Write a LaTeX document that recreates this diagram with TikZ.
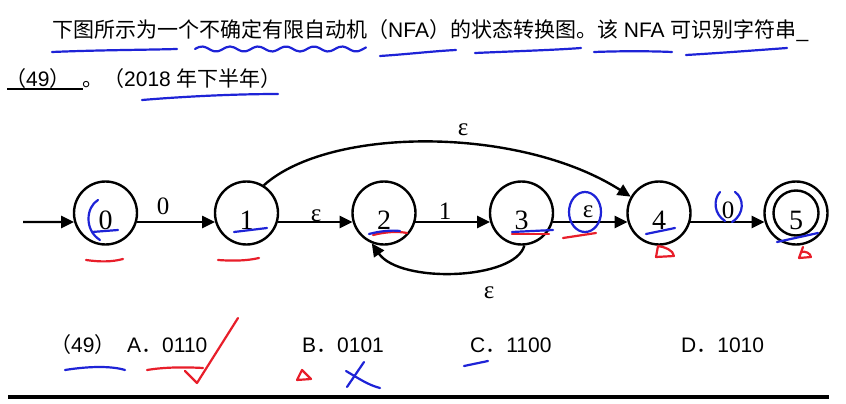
\documentclass[tikz,border=0pt]{standalone}
\usepackage{fontspec}
\setmainfont{Liberation Sans}
\newfontfamily\cjk{Noto Sans CJK SC}
\newfontfamily\tms{Liberation Serif}
\usetikzlibrary{arrows.meta}
\definecolor{bluepen}{RGB}{30,35,215}
\definecolor{redpen}{RGB}{232,30,42}
\begin{document}
\begin{tikzpicture}[x=1pt,y=-1pt,
  txt/.style={anchor=base west, inner sep=0pt, font=\fontsize{21}{25}\selectfont},
  state/.style={draw, circle, line width=2.4pt, minimum size=63pt, inner sep=0pt},
  statelbl/.style={font=\tms\fontsize{28}{30}\selectfont, yshift=-7pt, inner sep=0pt},
  edgelbl/.style={font=\tms\fontsize{25}{28}\selectfont, inner sep=0pt},
  arr/.style={line width=2.4pt, -{Triangle[length=13pt,width=12pt]}},
  hb/.style={draw=bluepen, line width=2.2pt, line cap=round, line join=round},
  hr/.style={draw=redpen, line width=2.2pt, line cap=round, line join=round}]
\useasboundingbox (0,0) rectangle (846,404);
\fill[white] (0,0) rectangle (846,404);

% ---- question text ----
\node[txt] (line1) at (52,38) {{\cjk 下图所示为一个不确定有限自动机（}NFA{\cjk ）的状态转换图。该} NFA {\cjk 可识别字符串}\_};
\node[txt] (line2a) at (5,86) {{\cjk （}49{\cjk ）}};
\draw[line width=1.6pt] (7,89) -- (83,89);
\node[txt] (line2b) at (82,86) {{\cjk 。（}2018 {\cjk 年下半年）}};

% ---- automaton ----
\node[state, label={[statelbl]center:0}] (s0) at (105.5,213) {};
\node[state, label={[statelbl]center:1}] (s1) at (246.5,213) {};
\node[state, label={[statelbl]center:2}] (s2) at (384,213) {};
\node[state, label={[statelbl]center:3}] (s3) at (521.5,213) {};
\node[state, label={[statelbl]center:4}] (s4) at (659,213) {};
\node[state, label={[statelbl]center:5}] (s5) at (796,213) {};
\node[draw, circle, line width=2.4pt, minimum size=45pt, inner sep=0pt] (s5in) at (s5) {};

\coordinate (start) at (23,222);
\draw[arr] (start) -- (s0.196.6);
\draw[arr] (s0.-16.6) -- (s1.196.6);
\draw[arr] (s1.-16.6) -- (s2.196.6);
\draw[arr] (s2.-16.6) -- (s3.196.6);
\draw[arr] (s3.-16.6) -- (s4.196.6);
\draw[arr] (s4.-16.6) -- (s5.196.6);
\draw[arr] (s1.58) .. controls (330,126) and (520,126) .. (s4.150);
\draw[arr] (s3.-85) .. controls (515,280) and (400,284) .. (s2.-112);

\node[edgelbl] (l01) at (163,206) {0};
\node[edgelbl] (l12) at (316,216) {ε};
\node[edgelbl] (l23) at (445,211) {1};
\node[edgelbl] (l34) at (588,212) {ε};
\node[edgelbl] (l45) at (728,210) {0};
\node[edgelbl] (l14) at (463,130) {ε};
\node[edgelbl] (l32) at (489,293) {ε};

% ---- options ----
\node[txt] (o49) at (50,352) {{\cjk （}49{\cjk ）}};
\node[txt] (oA) at (127,352) {A{\cjk ．}0110};
\node[txt] (oB) at (302,352) {B{\cjk ．}0101};
\node[txt] (oC) at (470,352) {C{\cjk ．}1100};
\node[txt] (oD) at (681,352) {D{\cjk ．}1010};
\draw[line width=3.5pt] (8,397) -- (829,397);

% ---- handwritten marks ----
\draw[hb] (52,52) .. controls (100,50) and (140,50) .. (177,49);
\draw[hb] plot[smooth, domain=195:366, samples=45] (\x, {49 - 2.5*sin((\x-195)*12.857)});
\draw[hb] (380,56) .. controls (410,54) and (435,51) .. (456,50);
\draw[hb] (475,53) .. controls (520,51) and (555,50) .. (581,48);
\draw[hb] (594,52) .. controls (620,51) and (650,51) .. (672,52);
\draw[hb] (686,55) .. controls (720,53) and (760,50) .. (787,48);
\draw[hb] (142,100) .. controls (190,96) and (240,94) .. (278,94);

\draw[hb] (98,200) .. controls (86,207) and (84,230) .. (100,240);
\draw[hb] (92,232) -- (118,230);
\draw[hr] (86,260) .. controls (100,262) and (112,262) .. (123,259);
\draw[hb] (234,232) -- (267,228);
\draw[hr] (218,260) .. controls (232,261) and (246,261) .. (259,258);
\draw[hr] (373,235) .. controls (385,232) and (397,231) .. (407,233);
\draw[hb] (369,234) .. controls (380,231) and (392,230) .. (400,231);
\draw[hr] (512,234) -- (549,234);
\draw[hb] (512,232) -- (553,230);
\draw[hb] (585,212) ellipse (16 and 20);
\draw[hr] (563,238) -- (596,233);
\draw[hb] (646,234) -- (675,228);
\draw[hr] (658,246) -- (656,257) -- (674,256) .. controls (673,250) and (665,247) .. (658,246);
\draw[hb] (720,192) .. controls (713,200) and (714,214) .. (725,221);
\draw[hb] (735,192) .. controls (744,198) and (745,214) .. (732,222);
\draw[hb] (777,242) -- (818,233);
\draw[hr] (803,247) -- (799,258) -- (811,257) .. controls (810,253) and (806,251) .. (801,252);

\draw[hb] (65,370) .. controls (90,366) and (112,366) .. (125,370);
\draw[hr] (147,370) .. controls (165,367) and (185,367) .. (203,368);
\draw[hr] (185,371) -- (197,383) -- (238,318);
\draw[hr] (297,380) -- (302,370) -- (311,379) -- cycle;
\draw[hb] (347,387) -- (364,362);
\draw[hb] (346,371) .. controls (358,378) and (368,385) .. (380,388);
\draw[hb] (464,366) -- (488,361);
\end{tikzpicture}
\end{document}
